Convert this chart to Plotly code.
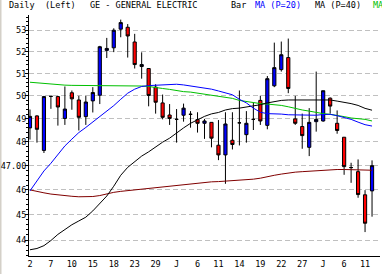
import plotly.graph_objects as go

dates = (["2001-05-%02d" % d for d in [2, 3, 4, 7, 8, 9, 10, 11, 14, 15, 16, 17, 18, 21, 22, 23, 24, 25, 29, 30, 31]]
         + ["2001-06-%02d" % d for d in [1, 4, 5, 6, 7, 8, 11, 12, 13, 14, 15, 18, 19, 20, 21, 22, 25, 26, 27, 28, 29]]
         + ["2001-07-%02d" % d for d in [2, 3, 5, 6, 9, 10, 11, 12]])

open_ = [48.60, 49.12, 47.64, 49.98, 49.97, 49.01, 50.14, 49.82, 49.09, 49.78,
         50.03, 52.06, 52.18, 53.05, 53.14, 52.45, 51.32, 51.23, 50.39, 49.69,
         49.16, 48.97, 49.15, 49.19, 48.96, 48.80, 48.84, 47.86, 47.45, 48.07,
         48.82, 48.31, 48.97, 49.80, 48.71, 50.45, 51.18, 51.73, 48.99, 48.66,
         47.77, 48.87, 48.90, 49.90, 48.80, 48.20, 46.92, 46.75, 45.80, 45.96]
high = [49.40, 49.15, 50.00, 50.00, 50.00, 50.42, 50.24, 50.00, 50.00, 50.39,
        52.27, 52.64, 53.09, 53.50, 53.29, 52.83, 51.97, 51.23, 50.52, 50.06,
        49.64, 49.42, 49.66, 49.33, 49.28, 48.99, 48.84, 48.94, 49.28, 49.28,
        50.24, 49.33, 49.69, 50.01, 50.89, 52.42, 52.47, 52.61, 50.00, 49.22,
        49.46, 51.09, 50.23, 49.93, 49.36, 48.20, 47.12, 47.26, 45.99, 47.22]
low = [48.10, 47.97, 47.53, 49.43, 48.70, 48.73, 49.39, 48.49, 48.73, 49.27,
       49.64, 51.71, 51.98, 52.67, 51.73, 51.23, 50.77, 49.54, 49.22, 48.97,
       48.73, 47.97, 48.87, 48.61, 48.40, 48.13, 47.77, 47.23, 46.25, 47.68,
       47.85, 47.97, 48.51, 48.73, 48.54, 50.39, 51.09, 50.12, 48.73, 47.71,
       47.40, 48.44, 48.87, 49.22, 48.35, 46.62, 46.29, 45.68, 44.31, 44.92]
close = [49.10, 48.54, 49.97, 49.98, 49.51, 49.42, 49.87, 49.06, 49.73, 50.15,
         52.23, 52.15, 53.00, 53.36, 52.73, 51.41, 51.41, 50.02, 49.72, 49.06,
         49.01, 48.97, 49.46, 49.19, 48.80, 48.90, 48.16, 47.45, 48.77, 47.89,
         48.82, 48.80, 48.97, 48.90, 50.77, 51.27, 51.86, 50.33, 48.80, 48.27,
         48.84, 48.97, 50.23, 49.55, 48.49, 46.96, 46.92, 45.81, 44.66, 47.00]

ma20 = [45.96, 46.36, 46.78, 47.10, 47.48, 47.83, 48.12, 48.40, 48.62, 48.85,
        49.10, 49.30, 49.57, 49.85, 50.12, 50.30, 50.42, 50.46, 50.48, 50.50,
        50.53, 50.52, 50.49, 50.44, 50.41, 50.37, 50.30, 50.22, 50.15, 50.05,
        49.85, 49.69, 49.46, 49.28, 49.22, 49.22, 49.20, 49.17, 49.16, 49.15,
        49.15, 49.15, 49.18, 49.19, 49.13, 49.05, 48.97, 48.85, 48.74, 48.68]
ma40 = [43.62, 43.67, 43.78, 43.98, 44.22, 44.42, 44.60, 44.75, 44.90, 45.15,
        45.45, 45.75, 46.15, 46.60, 46.93, 47.17, 47.40, 47.58, 47.80, 47.99,
        48.16, 48.40, 48.60, 48.80, 48.95, 49.10, 49.21, 49.27, 49.38, 49.44,
        49.46, 49.51, 49.54, 49.61, 49.69, 49.76, 49.80, 49.82, 49.82, 49.82,
        49.82, 49.82, 49.83, 49.82, 49.77, 49.73, 49.66, 49.58, 49.45, 49.37]
ma_green = [50.61, 50.58, 50.55, 50.52, 50.50, 50.48, 50.47, 50.47, 50.47, 50.47,
            50.47, 50.47, 50.47, 50.47, 50.47, 50.47, 50.44, 50.42, 50.39, 50.33,
            50.29, 50.23, 50.19, 50.17, 50.12, 50.07, 50.03, 49.99, 49.95, 49.89,
            49.80, 49.75, 49.70, 49.66, 49.64, 49.62, 49.58, 49.52, 49.44, 49.38,
            49.33, 49.26, 49.22, 49.19, 49.15, 49.09, 49.03, 49.00, 48.97, 48.90]
ma_red = [46.00, 45.93, 45.88, 45.83, 45.79, 45.76, 45.74, 45.72, 45.71, 45.73,
          45.77, 45.84, 45.90, 45.94, 45.97, 46.00, 46.04, 46.07, 46.10, 46.12,
          46.14, 46.18, 46.22, 46.25, 46.29, 46.32, 46.33, 46.34, 46.36, 46.37,
          46.40, 46.42, 46.44, 46.48, 46.55, 46.60, 46.65, 46.70, 46.73, 46.75,
          46.77, 46.80, 46.82, 46.84, 46.84, 46.84, 46.84, 46.83, 46.82, 46.81]

x_tick_dates = ["2001-05-02", "2001-05-07", "2001-05-10", "2001-05-15", "2001-05-18",
                "2001-05-23", "2001-05-29", "2001-06-01", "2001-06-06", "2001-06-11",
                "2001-06-14", "2001-06-19", "2001-06-22", "2001-06-27", "2001-07-02",
                "2001-07-06", "2001-07-11"]
x_tick_text = ["2", "7", "10", "15", "18", "23", "29", "J", "6", "11", "14",
               "19", "22", "27", "J", "6", "11"]
y_tick_vals = [44, 45, 46, 47, 48, 49, 50, 51, 52, 53]
y_tick_text = ["44", "45", "46", "47.00", "48", "49", "50", "51", "52", "53"]
y_minor_vals = [round(43.4 + 0.2 * k, 1) for k in range(52)]

FONT = "DejaVu Sans Mono"
FS = 8.5

fig = go.Figure()
fig.add_trace(go.Candlestick(
    x=dates, open=open_, high=high, low=low, close=close,
    increasing=dict(fillcolor="#0000ff", line=dict(color="#000000", width=1)),
    decreasing=dict(fillcolor="#ff0000", line=dict(color="#000000", width=1)),
    whiskerwidth=0, showlegend=False, hoverinfo="skip"))
for ys, col in [(ma_red, "#800000"), (ma_green, "#00c000"), (ma40, "#000000"), (ma20, "#0000ff")]:
    fig.add_trace(go.Scatter(x=dates, y=ys, mode="lines", line=dict(color=col, width=1),
                             showlegend=False, hoverinfo="skip"))

L, R, T, B = 29, 2, 15, 18
W, H = 382, 274
pw = W - L - R
ph = H - T - B

def px(xp):
    return (xp - L) / pw

ann_y = 1 + (T - 5.5) / ph
titles = [("Daily", 7, "#000000"), ("(Left)", 43, "#000000"),
          ("GE - GENERAL ELECTRIC", 88, "#000000"), ("Bar", 229, "#000000"),
          ("MA (P=20)", 253, "#0000ff"), ("MA (P=40)", 313, "#000000"),
          ("MA", 371, "#00c000")]
annotations = [dict(text=t, x=px(xp), y=ann_y, xref="paper", yref="paper",
                    xanchor="left", yanchor="middle", showarrow=False,
                    font=dict(family=FONT, size=FS, color=c)) for t, xp, c in titles]

shapes = [dict(type="rect", xref="paper", yref="paper", x0=px(0), x1=px(1.5),
               y0=-B / ph, y1=1 + T / ph, fillcolor="#d4d0c8", line=dict(width=0),
               layer="below")]

fig.update_layout(
    width=W, height=H, margin=dict(l=L, r=R, t=T, b=B, autoexpand=False),
    paper_bgcolor="#ffffff", plot_bgcolor="#ffffff",
    showlegend=False, annotations=annotations, shapes=shapes,
    xaxis=dict(type="category", rangeslider=dict(visible=False), automargin=False,
               range=[-0.14, 50.14], tickmode="array", tickvals=x_tick_dates,
               ticktext=x_tick_text, tickangle=0, showgrid=False, zeroline=False,
               showline=True, linecolor="#000000", linewidth=1, ticks="",
               tickfont=dict(family=FONT, size=FS, color="#000000")),
    yaxis=dict(type="log", range=[1.63729, 1.73014], tickmode="array", automargin=False,
               tickvals=y_tick_vals, ticktext=y_tick_text, ticklabelstandoff=-3,
               showgrid=True, gridcolor="#c0c0c0", griddash="5px,3px", gridwidth=1,
               zeroline=False, showline=True, linecolor="#000000", linewidth=1,
               ticks="outside", ticklen=3, tickcolor="#000000", tickwidth=1,
               minor=dict(tickmode="array", tickvals=y_minor_vals, ticks="outside",
                          ticklen=2, tickcolor="#000000", showgrid=False),
               tickfont=dict(family=FONT, size=FS, color="#000000")),
    boxgap=0.35,
)

fig.write_html("out.html", config={"displayModeBar": False})
